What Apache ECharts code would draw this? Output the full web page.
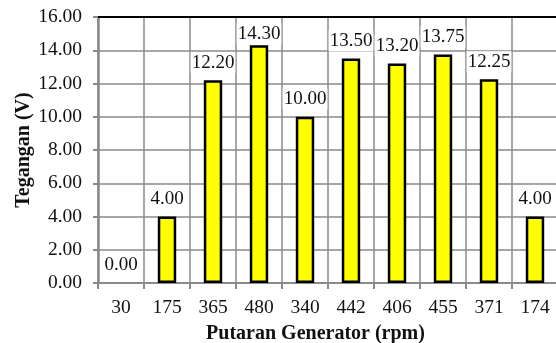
<!DOCTYPE html>
<html>
<head>
<meta charset="utf-8">
<script src="https://cdn.jsdelivr.net/npm/echarts@6/dist/echarts.min.js"></script>
<style>
  html, body { margin: 0; padding: 0; background: #fff; }
  #chart { width: 556px; height: 343px; }
</style>
</head>
<body>
<div id="chart"></div>
<script>
// Generator speed (rpm) per trial and the measured voltage
const rpmCategories = ['30', '175', '365', '480', '340', '442', '406', '455', '371', '174'];
const voltageValues = [0.00, 4.00, 12.20, 14.30, 10.00, 13.50, 13.20, 13.75, 12.25, 4.00];
const yTicks = { min: 0, max: 16, interval: 2 };

const serif = "'Liberation Serif', 'Times New Roman', serif";
const gridGray = '#8a8a8a';

// a zero reading has no visible bar, only its label;
// labels of the tallest bars sit closer so they stay clear of the top frame
const barData = voltageValues.map(v => {
  const item = { value: v };
  if (v === 0) item.itemStyle = { borderWidth: 0 };
  if (v > 14) item.label = { distance: 1 };
  return item;
});

const chart = echarts.init(document.getElementById('chart'));
chart.setOption({
  animation: false,
  backgroundColor: '#fff',
  grid: { left: 98, top: 17, width: 460, height: 266, containLabel: false, outerBoundsMode: 'none' },
  xAxis: [
    {
      type: 'category',
      data: rpmCategories,
      boundaryGap: true,
      name: 'Putaran Generator (rpm)',
      nameLocation: 'middle',
      nameGap: 41,
      nameMoveOverlap: false,
      nameTextStyle: { fontFamily: serif, fontWeight: 'bold', fontSize: 20, color: '#111', padding: [0, 25, 0, 0] },
      axisLine: { show: true, lineStyle: { color: gridGray, width: 2 } },
      axisTick: { show: true, alignWithLabel: false, length: 6, lineStyle: { color: gridGray, width: 2 } },
      axisLabel: { fontFamily: serif, fontSize: 19.5, color: '#111', margin: 15 },
      splitLine: { show: true, lineStyle: { color: gridGray, width: 1.5 } }
    },
    {
      // top frame line of the plot area
      type: 'category',
      position: 'top',
      data: rpmCategories,
      axisLine: { show: true, lineStyle: { color: '#000', width: 2 } },
      axisTick: { show: false },
      axisLabel: { show: false },
      splitLine: { show: false }
    }
  ],
  yAxis: {
    type: 'value',
    min: yTicks.min,
    max: yTicks.max,
    interval: yTicks.interval,
    name: 'Tegangan (V)',
    nameLocation: 'middle',
    nameGap: 64,
    nameMoveOverlap: false,
    nameTextStyle: { fontFamily: serif, fontWeight: 'bold', fontSize: 20, color: '#111' },
    axisLine: { show: true, lineStyle: { color: gridGray, width: 2.5 } },
    axisTick: { show: true, length: 5, lineStyle: { color: gridGray, width: 2 } },
    axisLabel: {
      fontFamily: serif, fontSize: 19.5, color: '#111', margin: 16,
      formatter: v => v.toFixed(2)
    },
    splitLine: { show: true, lineStyle: { color: gridGray, width: 1.5 } }
  },
  series: [{
    type: 'bar',
    data: barData,
    barWidth: '40%',
    itemStyle: { color: '#ffff00', borderColor: '#000', borderWidth: 2.5 },
    label: {
      show: true,
      position: 'top',
      distance: 7,
      fontFamily: serif,
      fontSize: 19,
      color: '#111',
      backgroundColor: '#fff',
      padding: [1, 1],
      formatter: p => p.value.toFixed(2)
    }
  }]
});
</script>
</body>
</html>
